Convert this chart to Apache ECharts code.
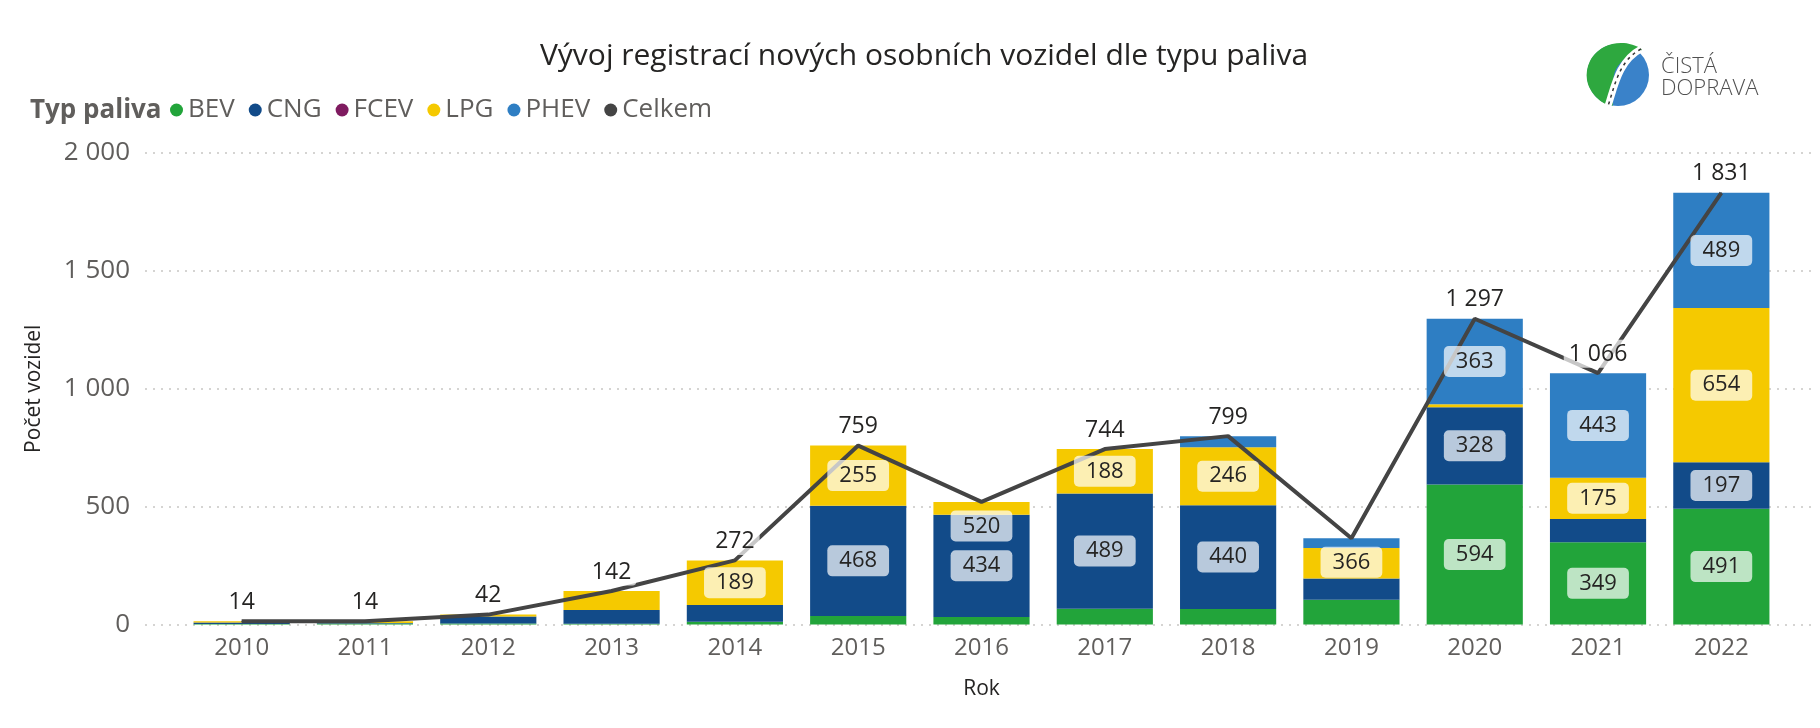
<!DOCTYPE html>
<html>
<head>
<meta charset="utf-8">
<script src="https://cdn.jsdelivr.net/npm/echarts@6/dist/echarts.min.js"></script>
<style>
html,body{margin:0;padding:0;background:#fff;}
#c{width:1820px;height:728px;}
</style>
</head>
<body>
<div id="c"></div>
<script>
const years = ['2010','2011','2012','2013','2014','2015','2016','2017','2018','2019','2020','2021','2022'];
const bev   = [2, 4, 4, 3, 12, 36, 32, 67, 66, 105, 594, 349, 491];
const cng   = [6, 2, 30, 58, 71, 468, 434, 489, 440, 90, 328, 99, 197];
const fcev  = [0, 0, 0, 0, 0, 0, 0, 0, 0, 0, 0, 0, 0];
const lpg   = [6, 8, 8, 81, 189, 255, 54, 188, 246, 130, 12, 175, 654];
const phev  = [0, 0, 0, 0, 0, 0, 0, 0, 47, 41, 363, 443, 489];
const total = [14, 14, 42, 142, 272, 759, 520, 744, 799, 366, 1297, 1066, 1831];
const yTicks = [0, 500, 1000, 1500, 2000];

const FONT = "'Open Sans', 'Noto Sans', sans-serif";
const fmt = v => String(v).replace(/\B(?=(\d{3})+(?!\d))/g, ' ');
const labelBelowYears = ['2016', '2019'];

const segLabel = {
  show: true,
  position: 'inside',
  fontFamily: FONT,
  fontSize: 22,
  color: '#252423',
  backgroundColor: 'rgba(255,255,255,0.7)',
  padding: [5, 12, 4, 12],
  borderRadius: 5,
  formatter: p => fmt(p.value)
};

const fuels = [
  { name: 'BEV', data: bev, color: '#22A43A' },
  { name: 'CNG', data: cng, color: '#124B89' },
  { name: 'FCEV', data: fcev, color: '#7F1B60' },
  { name: 'LPG', data: lpg, color: '#F5C900' },
  { name: 'PHEV', data: phev, color: '#2E7EC3' }
];

// visible stacked bars (no labels)
const barSeries = fuels.map(f => ({
  name: f.name,
  type: 'bar',
  stack: 'a',
  xAxisIndex: 1,
  yAxisIndex: 1,
  barCategoryGap: '22%',
  z: 2,
  itemStyle: { color: f.color },
  label: { show: false },
  data: f.data
}));

// identical transparent stack drawn above the line, carrying the segment labels
const labelSeries = fuels.map(f => ({
  name: 'label-' + f.name,
  type: 'bar',
  stack: 'b',
  xAxisIndex: 2,
  yAxisIndex: 1,
  barCategoryGap: '22%',
  z: 4,
  silent: true,
  itemStyle: { color: 'rgba(0,0,0,0)' },
  label: segLabel,
  data: f.data.map(v => ({ value: v, label: { show: v >= 150 } }))
}));

const chart = echarts.init(document.getElementById('c'));
chart.setOption({
  animation: false,
  textStyle: { fontFamily: FONT },
  title: [
    {
      text: 'Vývoj registrací nových osobních vozidel dle typu paliva',
      left: 919, top: 36, textAlign: 'center',
      textStyle: { fontFamily: FONT, fontSize: 30, fontWeight: 'normal', color: '#252423' }
    },
    {
      text: 'Typ paliva',
      left: 25, top: 93,
      textStyle: { fontFamily: FONT, fontSize: 26, fontWeight: 'bold', color: '#605E5C' }
    }
  ],
  legend: {
    left: 170, top: 97,
    icon: 'circle',
    itemWidth: 13, itemHeight: 13, itemGap: 14,
    padding: 0,
    textStyle: { fontFamily: FONT, fontSize: 26, color: '#605E5C' },
    data: ['BEV', 'CNG', 'FCEV', 'LPG', 'PHEV', 'Celkem']
  },
  grid: [
    { left: 145, right: 7, top: 153, bottom: 103.5 },
    { left: 180, right: 37, top: 153, bottom: 103.5 }
  ],
  xAxis: [
    { type: 'category', gridIndex: 0, data: years, show: false },
    {
      type: 'category', gridIndex: 1, data: years,
      axisLine: { show: false }, axisTick: { show: false },
      axisLabel: { fontFamily: FONT, fontSize: 24, color: '#605E5C', margin: 12 },
      name: 'Rok', nameLocation: 'middle', nameGap: 54,
      nameTextStyle: { fontFamily: FONT, fontSize: 21, color: '#252423' }
    },
    { type: 'category', gridIndex: 1, data: years, show: false }
  ],
  yAxis: [
    {
      type: 'value', gridIndex: 0, min: yTicks[0], max: yTicks[yTicks.length - 1], interval: 500,
      axisLine: { show: false }, axisTick: { show: false },
      axisLabel: { fontFamily: FONT, fontSize: 26, color: '#605E5C', margin: 15, formatter: v => fmt(v) },
      splitLine: { show: true, lineStyle: { color: '#C8C6C4', type: [2, 6], width: 1.5 } },
      name: 'Počet vozidel', nameLocation: 'middle', nameGap: 100,
      nameTextStyle: { fontFamily: FONT, fontSize: 21, color: '#252423' }
    },
    {
      type: 'value', gridIndex: 1, min: yTicks[0], max: yTicks[yTicks.length - 1], interval: 500,
      show: false, splitLine: { show: false }
    }
  ],
  series: [
    ...barSeries,
    {
      name: 'Celkem',
      type: 'line',
      xAxisIndex: 1,
      yAxisIndex: 1,
      z: 3,
      symbol: 'circle',
      symbolSize: 1,
      itemStyle: { color: '#444444' },
      lineStyle: { color: '#444444', width: 4 },
      label: {
        show: true,
        position: 'top',
        distance: 5,
        fontFamily: FONT,
        fontSize: 23,
        color: '#252423',
        backgroundColor: 'rgba(255,255,255,0.7)',
        padding: [3, 5, 2, 5],
        borderRadius: 4,
        formatter: p => fmt(p.value)
      },
      data: total.map((v, i) => labelBelowYears.includes(years[i])
        ? { value: v, label: { position: 'bottom', distance: 8, fontSize: 22, padding: [5, 12, 4, 12], borderRadius: 5 } }
        : v)
    },
    ...labelSeries
  ],
  graphic: [
    {
      type: 'group', x: 1618, y: 75,
      children: [
        { type: 'circle', shape: { cx: 0, cy: 0, r: 31 }, style: { fill: '#3A82C9' } },
        { type: 'polygon', shape: { smooth: 0.35, points: [[-6, 31], [-22, 22], [-31, 5], [-28, -14], [-14, -28], [6, -32], [24, -25], [8, -17], [-2, -6], [-5, 6], [-6, 18]] }, style: { fill: '#2EA83F' } },
        { type: 'bezierCurve', shape: { x1: 23, y1: -26, cpx1: 0, cpy1: -14, cpx2: -4, cpy2: 14, x2: -10, y2: 31 }, style: { fill: null, stroke: '#ffffff', lineWidth: 7 } },
        { type: 'bezierCurve', shape: { x1: 23, y1: -26, cpx1: 0, cpy1: -14, cpx2: -4, cpy2: 14, x2: -10, y2: 31 }, style: { fill: null, stroke: '#333333', lineWidth: 1.5, lineDash: [3, 4] } }
      ]
    },
    { type: 'text', left: 1661, top: 56, style: { text: 'ČISTÁ', font: '300 22px ' + FONT, fill: '#505050' } },
    { type: 'text', left: 1661, top: 78, style: { text: 'DOPRAVA', font: '300 22px ' + FONT, fill: '#505050' } }
  ]
});
</script>
</body>
</html>
